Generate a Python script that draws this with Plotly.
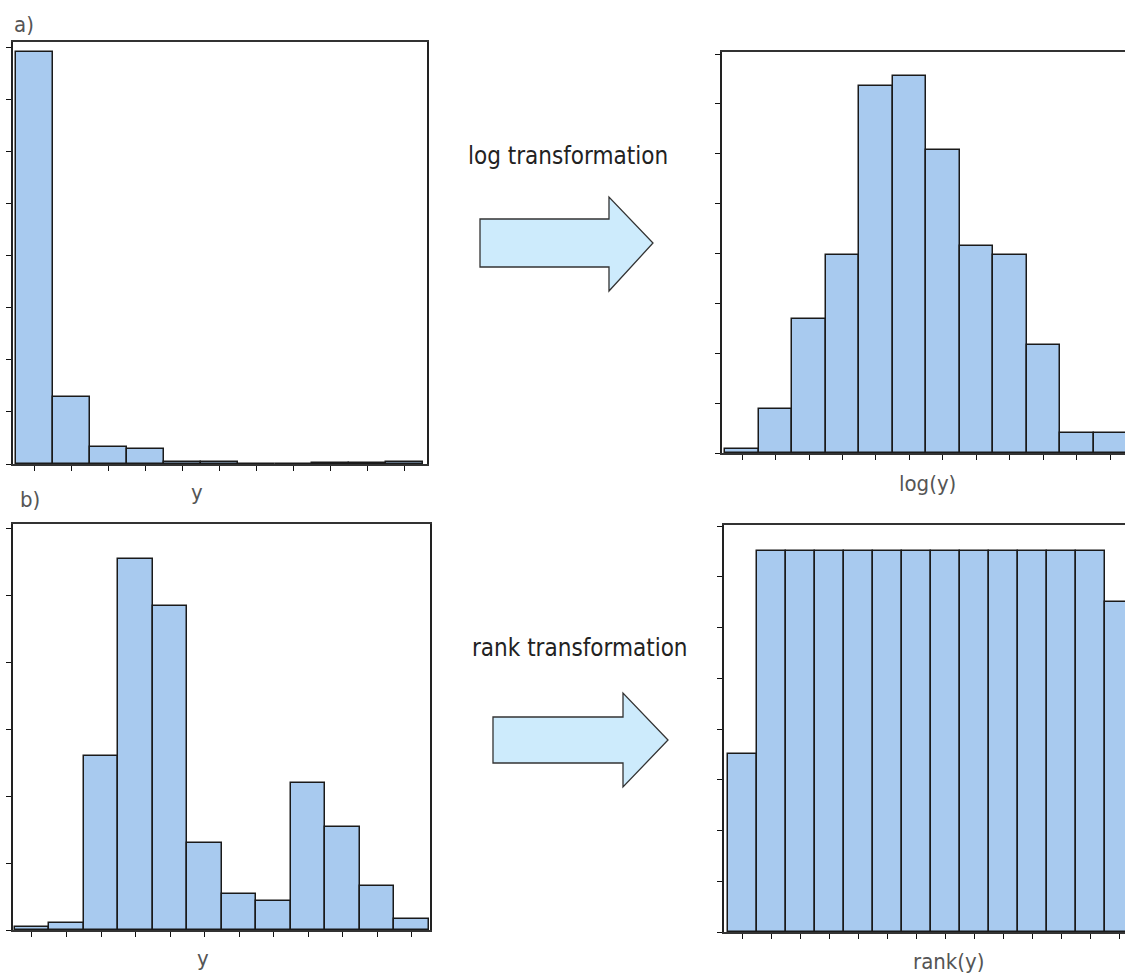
import plotly.graph_objects as go

# ---------------- data ----------------
raw_counts = [790, 129, 32, 28, 4, 4, 0, 0, 2, 2, 4]
log_counts = [2, 22, 67, 99, 184, 189, 152, 104, 99, 54, 10, 10]
bimodal_counts = [2, 5, 130, 277, 242, 65, 27, 22, 110, 77, 33, 8]
rank_counts = [35, 75, 75, 75, 75, 75, 75, 75, 75, 75, 75, 75, 75, 65]

raw_yticks = [0, 100, 200, 300, 400, 500, 600, 700, 800]
log_yticks = [0, 25, 50, 75, 100, 125, 150, 175, 200]
bimodal_yticks = [0, 50, 100, 150, 200, 250, 300]
rank_yticks = [0, 10, 20, 30, 40, 50, 60, 70, 80]

panel_letters = ["a)", "b)"]
axis_titles = ["y", "log(y)", "y", "rank(y)"]
transform_labels = ["log transformation", "rank transformation"]

# ---------------- style ----------------
W, H = 1125, 974
BAR_FILL = "#A8CAEF"
BAR_LINE = "#1a1a1a"
ARROW_FILL = "#CDEBFC"
FONT = "DejaVu Sans Condensed, Liberation Sans Narrow, DejaVu Sans, sans-serif"
GREY = "#555555"


def px(x):
    return x / W


def py(y):
    return 1 - y / H


fig = go.Figure()

panels = [
    # counts, yticks, yrange, x-domain px, y-domain px (top, bottom), xrange, right frame
    (raw_counts, raw_yticks, [0, 810], (13, 427), (42, 464), [-0.07, 11.1], True),
    (log_counts, log_yticks, [0, 201], (722, W), (52, 453), [-0.1, 11.94], False),
    (bimodal_counts, bimodal_yticks, [0, 303], (13, 430), (524, 930), [-0.05, 12.03], True),
    (rank_counts, rank_yticks, [0, 80.2], (724, W), (525, 932), [-0.15, 13.69], False),
]

for i, (counts, yt, yr, (x0, x1), (yt_px, yb_px), xr, right_frame) in enumerate(panels):
    n = i + 1
    xa = "x" if n == 1 else f"x{n}"
    ya = "y" if n == 1 else f"y{n}"
    centers = [k + 0.5 for k in range(len(counts))]
    fig.add_trace(go.Bar(
        x=centers, y=counts, width=1.0,
        marker=dict(color=BAR_FILL, line=dict(color=BAR_LINE, width=1.5)),
        xaxis=xa, yaxis=ya, showlegend=False, hoverinfo="x+y",
    ))
    xkey = "xaxis" if n == 1 else f"xaxis{n}"
    ykey = "yaxis" if n == 1 else f"yaxis{n}"
    fig.layout[xkey] = dict(
        domain=[px(x0), min(1.0, px(x1))], range=xr, anchor=ya,
        showgrid=False, zeroline=False, showticklabels=False,
        tickvals=centers, ticks="outside", ticklen=5, tickwidth=1.3, tickcolor="#111",
        showline=True, linecolor="#333", linewidth=1.5, mirror=True,
        fixedrange=True,
    )
    fig.layout[ykey] = dict(
        domain=[py(yb_px), py(yt_px)], range=yr, anchor=xa,
        showgrid=False, zeroline=False, showticklabels=False,
        tickvals=yt, ticks="outside", ticklen=5, tickwidth=1.3, tickcolor="#111",
        showline=True, linecolor="#222", linewidth=2, mirror=right_frame,
        fixedrange=True,
    )

annotations = []
# panel letters
annotations.append(dict(text=panel_letters[0], x=px(12), y=py(24), xanchor="left", yanchor="middle"))
annotations.append(dict(text=panel_letters[1], x=px(18), y=py(500), xanchor="left", yanchor="middle"))
# axis titles
annotations.append(dict(text=axis_titles[0], x=px(197), y=py(492), xanchor="center", yanchor="middle"))
annotations.append(dict(text=axis_titles[1], x=px(927), y=py(483), xanchor="center", yanchor="middle"))
annotations.append(dict(text=axis_titles[2], x=px(203), y=py(958), xanchor="center", yanchor="middle"))
annotations.append(dict(text=axis_titles[3], x=px(948), y=py(961), xanchor="center", yanchor="middle"))
for a in annotations:
    a.update(xref="paper", yref="paper", showarrow=False, font=dict(family=FONT, size=22, color=GREY))
annotations.append(dict(text=transform_labels[0], x=px(568), y=py(156), xref="paper", yref="paper",
                        showarrow=False, xanchor="center", yanchor="middle",
                        font=dict(family=FONT, size=24, color="#222")))
annotations.append(dict(text=transform_labels[1], x=px(580), y=py(648), xref="paper", yref="paper",
                        showarrow=False, xanchor="center", yanchor="middle",
                        font=dict(family=FONT, size=24, color="#222")))
fig.update_layout(annotations=annotations)


def arrow_path(bx0, by0, bx1, by1, hy0, hy1, tipx):
    tipy = (by0 + by1) / 2
    pts = [(bx0, by0), (bx1, by0), (bx1, hy0), (tipx, tipy), (bx1, hy1), (bx1, by1), (bx0, by1)]
    return "M " + " L ".join(f"{px(x):.5f},{py(y):.5f}" for x, y in pts) + " Z"


shapes = [
    dict(type="path", xref="paper", yref="paper",
         path=arrow_path(480, 219, 609, 267, 197, 291, 653),
         fillcolor=ARROW_FILL, line=dict(color="#333", width=1.3)),
    dict(type="path", xref="paper", yref="paper",
         path=arrow_path(493, 717, 623, 763, 693, 787, 668),
         fillcolor=ARROW_FILL, line=dict(color="#333", width=1.3)),
]
fig.update_layout(shapes=shapes)

fig.update_layout(
    width=W, height=H, margin=dict(l=0, r=0, t=0, b=0),
    paper_bgcolor="white", plot_bgcolor="white", bargap=0,
)

fig.write_html(
    "out.html",
    config={"displayModeBar": False},
    post_script="document.body.style.margin='0';document.body.style.overflow='hidden';",
)
